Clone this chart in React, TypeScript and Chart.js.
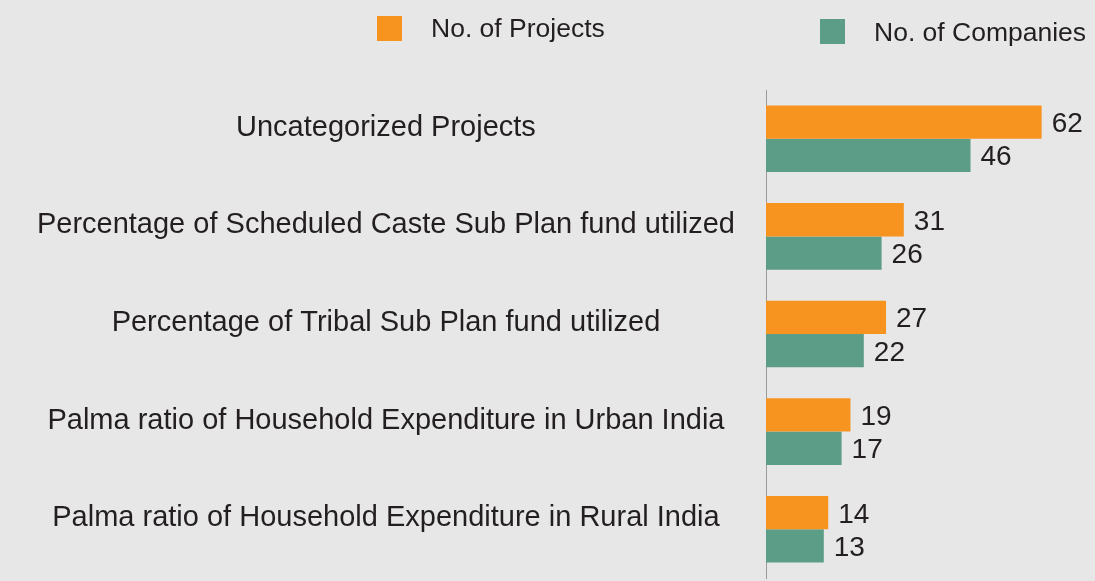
import React, { useEffect, useRef } from "react";
import { Chart, registerables } from "chart.js";

Chart.register(...registerables);

const categories = [
  "Uncategorized Projects",
  "Percentage of Scheduled Caste Sub Plan fund utilized",
  "Percentage of Tribal Sub Plan fund utilized",
  "Palma ratio of Household Expenditure in Urban India",
  "Palma ratio of Household Expenditure in Rural India",
];
const projects = [62, 31, 27, 19, 14];
const companies = [46, 26, 22, 17, 13];
const seriesNames = ["No. of Projects", "No. of Companies"];

const ORANGE = "#F79420";
const TEAL = "#5B9D86";
const BG = "#E7E7E7";
const TEXT = "#231F20";
const FONT = "'Liberation Sans', Arial, Helvetica, sans-serif";

const legendPlugin = {
  id: "customLegend",
  afterDraw(chart: any) {
    const ctx = chart.ctx;
    const items = [
      { x: 377, y: 16, tx: 431, ty: 37 },
      { x: 820, y: 19, tx: 874, ty: 41 },
    ];
    ctx.save();
    ctx.font = `26.5px ${FONT}`;
    ctx.textBaseline = "alphabetic";
    ctx.textAlign = "left";
    chart.data.datasets.forEach((ds: any, i: number) => {
      const it = items[i];
      ctx.fillStyle = ds.backgroundColor;
      ctx.fillRect(it.x, it.y, 25, 25);
      ctx.fillStyle = TEXT;
      ctx.fillText(ds.label, it.tx, it.ty);
    });
    ctx.restore();
  },
};

const valueLabelPlugin = {
  id: "valueLabels",
  afterDatasetsDraw(chart: any) {
    const ctx = chart.ctx;
    const size = 28;
    ctx.save();
    ctx.font = `${size}px ${FONT}`;
    ctx.textBaseline = "alphabetic";
    ctx.textAlign = "left";
    ctx.fillStyle = TEXT;
    chart.data.datasets.forEach((ds: any, di: number) => {
      const meta = chart.getDatasetMeta(di);
      meta.data.forEach((bar: any, i: number) => {
        ctx.fillText(String(ds.data[i]), bar.x + 10, bar.y + size * 0.358);
      });
    });
    ctx.restore();
  },
};

export default function App() {
  const canvasRef = useRef<HTMLCanvasElement | null>(null);

  useEffect(() => {
    document.body.style.margin = "0";
    document.body.style.background = BG;
    const chart = new Chart(canvasRef.current as HTMLCanvasElement, {
      type: "bar",
      data: {
        labels: categories,
        datasets: [
          {
            label: seriesNames[0],
            data: projects,
            backgroundColor: ORANGE,
            borderWidth: 0,
            categoryPercentage: 0.682,
            barPercentage: 1,
          },
          {
            label: seriesNames[1],
            data: companies,
            backgroundColor: TEAL,
            borderWidth: 0,
            categoryPercentage: 0.682,
            barPercentage: 1,
          },
        ],
      },
      options: {
        indexAxis: "y",
        animation: false,
        responsive: false,
        maintainAspectRatio: false,
        layout: { padding: { top: 90, bottom: 3, left: 0, right: 0 } },
        plugins: {
          legend: { display: false },
          tooltip: { enabled: false },
        },
        scales: {
          x: {
            display: false,
            min: 0,
            max: 74,
          },
          y: {
            grid: { display: false, drawTicks: false },
            border: { display: true, color: "#9A9A9A", width: 1 },
            ticks: {
              color: TEXT,
              font: { family: FONT, size: 29 },
              crossAlign: "center",
              padding: 31,
              labelOffset: -11,
            },
            afterFit(scale: any) {
              scale.width = 766;
              scale.paddingTop = 0;
              scale.paddingBottom = 0;
            },
          },
        },
      },
      plugins: [legendPlugin, valueLabelPlugin],
    } as any);
    return () => chart.destroy();
  }, []);

  return (
    <div style={{ width: 1095, height: 581, background: BG }}>
      <canvas ref={canvasRef} width={1095} height={581} style={{ display: "block" }} />
    </div>
  );
}
